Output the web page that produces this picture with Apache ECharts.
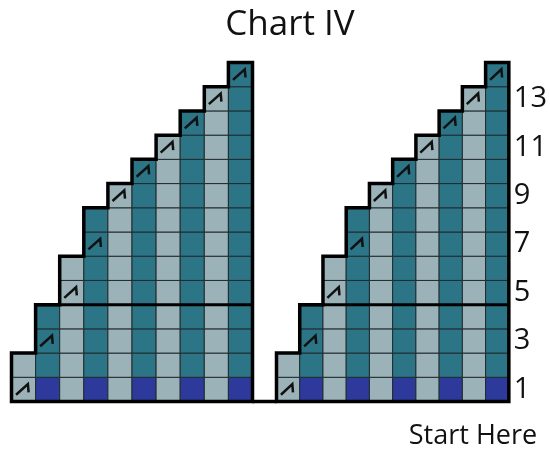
<!DOCTYPE html>
<html>
<head>
<meta charset="utf-8">
<script src="https://cdn.jsdelivr.net/npm/echarts@6/dist/echarts.min.js"></script>
<style>html,body{margin:0;padding:0;background:#fff}#c{width:550px;height:452px}</style>
</head>
<body>
<div id="c"></div>
<script>
// ---- data ----
const chartTitle = 'Chart IV';
const footerText = 'Start Here';
const columns = [1, 2, 3, 4, 5, 6, 7, 8, 9, 10];
const rows = [1, 2, 3, 4, 5, 6, 7, 8, 9, 10, 11, 12, 13, 14];
// first column of each row (rows 1..14, bottom to top)
const rowStartCol = [1, 1, 2, 2, 3, 3, 4, 4, 5, 6, 7, 8, 9, 10];
// rows carrying the decrease symbol in their first stitch
const decreaseRows = [1, 3, 5, 7, 9, 10, 11, 12, 13, 14];
// shade per column: 0 = light, 1 = teal, 2 = blue
const columnShade = [0, 1, 0, 1, 0, 1, 0, 1, 0, 1];
const firstRowShade = [0, 2, 0, 2, 0, 2, 0, 2, 0, 2];
const sectionRows = [4];               // thick rule above this row
const rowLabels = rows.map(String);    // shown every other row on the right
const palette = ['#9bb3b8', '#2c7587', '#2e3a9b'];

// ---- build cell table ----
const cells = [];
rows.forEach((r, i) => {
  for (let c = rowStartCol[i]; c <= columns.length; c++) {
    const shade = r === 1 ? firstRowShade[c - 1] : columnShade[c - 1];
    const sym = (c === rowStartCol[i] && decreaseRows.includes(r)) ? 1 : 0;
    cells.push([c, r, shade, sym]);
  }
});

function renderCell(params, api) {
  const c = api.value(0), r = api.value(1);
  const tl = api.coord([c - 1, r]);
  const br = api.coord([c, r - 1]);
  const w = br[0] - tl[0], h = br[1] - tl[1];
  const children = [{
    type: 'rect',
    shape: { x: tl[0], y: tl[1], width: w, height: h },
    style: { fill: palette[api.value(2)], stroke: '#1f2b2e', lineWidth: 1 }
  }];
  if (api.value(3)) {
    children.push({
      type: 'polyline',
      shape: { points: [
        [tl[0] + 0.19 * w, tl[1] + 0.72 * h],
        [tl[0] + 0.68 * w, tl[1] + 0.28 * h],
        [tl[0] + 0.71 * w, tl[1] + 0.62 * h]
      ] },
      style: { stroke: '#111', lineWidth: 2.5, fill: null, lineJoin: 'miter' }
    });
  }
  return { type: 'group', children };
}

function renderOutline(params, api) {
  const n = columns.length;
  const pts = [[n, 0], [n, rows.length]];
  for (let i = rows.length - 1; i >= 0; i--) {
    const x = rowStartCol[i] - 1;
    pts.push([x, rows[i]]);
    pts.push([x, rows[i] - 1]);
  }
  const children = [{
    type: 'polygon',
    shape: { points: pts.map(p => api.coord(p)) },
    style: { fill: null, stroke: '#000', lineWidth: 3.5, lineJoin: 'miter' }
  }];
  sectionRows.forEach(r => {
    const a = api.coord([rowStartCol[r - 1] - 1, r]);
    const b = api.coord([n, r]);
    children.push({
      type: 'line',
      shape: { x1: a[0], y1: a[1], x2: b[0], y2: b[1] },
      style: { stroke: '#000', lineWidth: 3 }
    });
  });
  return { type: 'group', children };
}

const valX = i => ({ type: 'value', gridIndex: i, min: 0, max: columns.length, show: false });
const valY = i => ({ type: 'value', gridIndex: i, min: 0, max: rows.length, show: false });

const textGraphics = [
  { type: 'text', x: 290, y: 25, style: { text: chartTitle, textAlign: 'center', textVerticalAlign: 'middle',
    fontSize: 35, fontFamily: 'Open Sans', fill: '#111' } },
  { type: 'text', x: 473, y: 436, style: { text: footerText, textAlign: 'center', textVerticalAlign: 'middle',
    fontSize: 27, fontFamily: 'Open Sans', fill: '#111' } }
];

const chart = echarts.init(document.getElementById('c'), null, { renderer: 'canvas' });
chart.setOption({
  animation: false,
  backgroundColor: '#fff',
  grid: [
    { left: 11.5, top: 62.5, width: 241, height: 339 },
    { left: 276.5, top: 62.5, width: 240, height: 339 }
  ],
  xAxis: [valX(0), valX(1)],
  yAxis: [
    valY(0), valY(1),
    {
      type: 'category', gridIndex: 1, position: 'right', data: rowLabels,
      axisLine: { show: false }, axisTick: { show: false }, splitLine: { show: false },
      axisLabel: { interval: 1, margin: 5, fontSize: 29, color: '#111', fontFamily: 'Open Sans' }
    }
  ],
  graphic: textGraphics,
  series: [
    { type: 'custom', xAxisIndex: 0, yAxisIndex: 0, data: cells, renderItem: renderCell, silent: true },
    { type: 'custom', xAxisIndex: 1, yAxisIndex: 1, data: cells, renderItem: renderCell, silent: true },
    { type: 'custom', xAxisIndex: 0, yAxisIndex: 0, data: [0], renderItem: renderOutline, silent: true, z: 5 },
    { type: 'custom', xAxisIndex: 1, yAxisIndex: 1, data: [0], renderItem: renderOutline, silent: true, z: 5 }
  ]
});

// connect the two charts' base lines across the gap
const a = chart.convertToPixel({ xAxisIndex: 0, yAxisIndex: 0 }, [columns.length, 0]);
const b = chart.convertToPixel({ xAxisIndex: 1, yAxisIndex: 1 }, [0, 0]);
chart.setOption({
  graphic: textGraphics.concat([
    { type: 'line', z: 10, shape: { x1: a[0], y1: a[1], x2: b[0], y2: b[1] }, style: { stroke: '#000', lineWidth: 3.5 } }
  ])
});
</script>
</body>
</html>
